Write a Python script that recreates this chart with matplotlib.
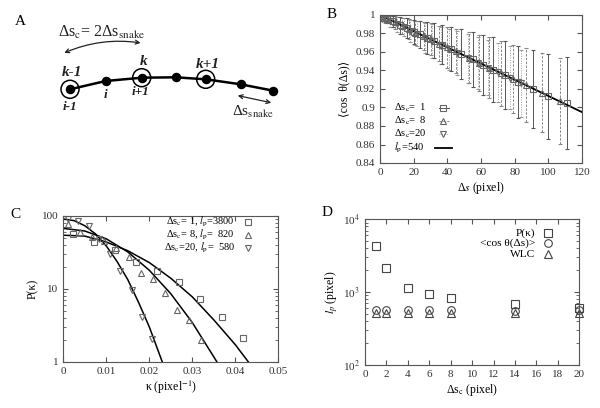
import numpy as np
import matplotlib as mpl
import matplotlib.pyplot as plt
from matplotlib.patches import Circle, FancyArrowPatch
from matplotlib.ticker import NullFormatter, LogLocator

mpl.rcParams.update({"font.family": ["Liberation Serif", "DejaVu Serif"],
                     "mathtext.fontset": "stix", "font.size": 8,
                     "axes.linewidth": 0.8, "axes.edgecolor": "#555555",
                     "xtick.direction": "in", "ytick.direction": "in",
                     "xtick.top": True, "ytick.right": True,
                     "xtick.major.size": 3.5, "ytick.major.size": 3.5,
                     "xtick.minor.size": 2, "ytick.minor.size": 2,
                     "xtick.color": "#555555", "ytick.color": "#555555",
                     "xtick.labelcolor": "#333333", "ytick.labelcolor": "#333333"})
INK = "#222222"
GREY = "#666666"

# ---------------- panel A: chain sketch (pixel coords of the panel) -----
chain_x = [70, 105.7, 141.7, 175.7, 205.7, 240.7, 273.3]
chain_y = [89.3, 81, 77.7, 77.3, 79.3, 84.3, 90.7]
ring_idx = [0, 2, 4]

# ---------------- panel B: <cos theta(ds)> ------------------------------
b1_x = [1, 4, 8, 12, 16, 20, 24, 28, 32, 37, 42, 48, 55, 61, 67, 74, 82, 91, 100, 111]
b1_y = [0.999, 0.996, 0.993, 0.989, 0.986, 0.982, 0.979, 0.975, 0.972, 0.968,
        0.963, 0.958, 0.952, 0.946, 0.941, 0.935, 0.928, 0.920, 0.912, 0.905]
b1_e = [0.001, 0.003, 0.006, 0.009, 0.011, 0.013, 0.015, 0.017, 0.019, 0.021,
        0.024, 0.027, 0.030, 0.032, 0.035, 0.037, 0.039, 0.042, 0.046, 0.050]
b8_x = [2, 5, 9, 13, 17, 21, 26, 30, 35, 40, 45, 53, 59, 65, 72, 79, 87, 96, 107]
b8_y = [0.997, 0.995, 0.992, 0.988, 0.985, 0.981, 0.977, 0.974, 0.969, 0.965,
        0.961, 0.954, 0.948, 0.943, 0.937, 0.931, 0.924, 0.916, 0.907]
b8_e = [0.002, 0.004, 0.007, 0.009, 0.011, 0.013, 0.015, 0.017, 0.019, 0.022,
        0.024, 0.028, 0.030, 0.033, 0.035, 0.037, 0.040, 0.043, 0.046]
b20_x = [1, 3, 6, 10, 14, 18, 22, 27, 31, 36, 41, 46, 52, 58, 64, 70, 77, 84]
b20_y = [0.996, 0.995, 0.993, 0.990, 0.987, 0.983, 0.980, 0.975, 0.972, 0.967,
         0.963, 0.959, 0.953, 0.948, 0.943, 0.938, 0.932, 0.926]
b20_e = [0.002, 0.004, 0.006, 0.008, 0.010, 0.012, 0.014, 0.016, 0.018, 0.020,
         0.022, 0.024, 0.026, 0.028, 0.030, 0.032, 0.034, 0.036]
lp_x = [0, 120]
lp_y = [1.0, 0.895]
b_labels = ["Δs$_\\mathrm{c}$=  1", "Δs$_\\mathrm{c}$=  8", "Δs$_\\mathrm{c}$=20", "$l_\\mathrm{p}$=540"]

# ---------------- panel C: P(kappa) -------------------------------------
c1_k = [0.0022, 0.0072, 0.0121, 0.0170, 0.0219, 0.0270, 0.0318, 0.0368, 0.0417]
c1_p = [57, 44, 33.5, 23.5, 17.5, 12.4, 7.3, 4.1, 2.1]
c8_k = [0.0012, 0.0039, 0.0067, 0.0095, 0.0123, 0.0153, 0.0181, 0.0208, 0.0236,
        0.0264, 0.0292, 0.0321]
c8_p = [77, 59, 51, 45, 36, 26.9, 16.6, 13.4, 8.6, 5.1, 3.7, 2.0]
c20_k = [0.0012, 0.0035, 0.0060, 0.0084, 0.0108, 0.0133, 0.0159, 0.0184, 0.0207]
c20_p = [90, 85, 73, 48, 29.5, 17.5, 9.6, 4.06, 2.05]
fit1_k = [0, 0.005, 0.010, 0.015, 0.020, 0.025, 0.030, 0.035, 0.040, 0.043]
fit1_p = [54, 52.6, 43.6, 33.1, 22.8, 13.9, 7.73, 3.74, 1.71, 1.0]
fit8_k = [0, 0.005, 0.010, 0.015, 0.020, 0.025, 0.030, 0.0357]
fit8_p = [67, 61.7, 48.2, 31.9, 17.9, 8.53, 3.44, 1.0]
fit20_k = [0, 0.0025, 0.005, 0.0075, 0.010, 0.0125, 0.015, 0.0175, 0.020, 0.023]
fit20_p = [90, 85.6, 72.9, 56.2, 38.5, 23.6, 13.3, 6.5, 3.0, 1.0]
c_labels = ["Δs$_\\mathrm{c}$= 1, $l_\\mathrm{p}$=3800",
            "Δs$_\\mathrm{c}$= 8, $l_\\mathrm{p}$=  820",
            "Δs$_\\mathrm{c}$=20, $l_\\mathrm{p}$=  580"]

# ---------------- panel D: l_p vs ds_c ----------------------------------
d_x = [1, 2, 4, 6, 8, 14, 20]
d_pk = [4300, 2150, 1150, 930, 820, 680, 600]
d_cos = [560, 560, 560, 560, 560, 555, 560]
d_wlc = [515, 515, 515, 515, 515, 515, 520]
d_labels = ["P(κ)", "<cos θ(Δs)>", "WLC"]

fig = plt.figure(figsize=(6.0, 4.08), dpi=100)

# ---- A
axA = fig.add_axes([0, 1 - 200 / 408, 0.5, 200 / 408])
axA.set_xlim(0, 300); axA.set_ylim(200, 0); axA.axis("off")
axA.plot(chain_x, chain_y, color="black", lw=1.8, solid_joinstyle="round", zorder=2)
axA.scatter(chain_x, chain_y, s=34, color="black", zorder=3)
for i in ring_idx:
    axA.add_patch(Circle((chain_x[i], chain_y[i]), 9, fill=False, ec="black", lw=1.1, zorder=3))
bi = dict(fontsize=11, fontweight="bold", fontstyle="italic", ha="center", va="center", color=INK)
axA.text(71.7, 72.7, "k-1", **bi)
axA.text(144, 61.5, "k", **bi)
axA.text(207.3, 64.5, "k+1", **bi)
ii = dict(fontsize=9.5, fontweight="bold", fontstyle="italic", ha="center", va="center", color=INK)
axA.text(70, 107.5, "i-1", **ii)
axA.text(105.7, 94.5, "i", **ii)
axA.text(140.7, 92, "i+1", **ii)
axA.text(58, 32, "Δs$_\\mathrm{c}$= 2Δs$_\\mathrm{snake}$", fontsize=11.5, ha="left", va="center", color=INK)
axA.add_patch(FancyArrowPatch((61.7, 54), (143.3, 43.3), arrowstyle="<->", mutation_scale=7,
                              connectionstyle="arc3,rad=-0.15", lw=0.9, color=INK))
axA.add_patch(FancyArrowPatch((235, 95), (274, 103.3), arrowstyle="<->", mutation_scale=7,
                              lw=0.9, color=INK))
axA.text(231.5, 112, "Δs$_\\mathrm{snake}$", fontsize=11, ha="left", va="center", color=INK)
fig.text(20.7 / 600, 1 - 21.7 / 408, "A", fontsize=11, ha="center", va="center")

# ---- B
axB = fig.add_axes([380 / 600, 1 - 163 / 408, 202 / 600, 148 / 408])
mk = dict(mfc="none", mec=GREY, mew=0.8, ms=4.5)
eb = axB.errorbar(b20_x, b20_y, yerr=b20_e, fmt="v", ecolor="#999999", elinewidth=0.7,
                  capsize=1.5, capthick=0.7, **mk)
eb[2][0].set_linestyle((0, (1, 1.5)))
eb = axB.errorbar(b8_x, b8_y, yerr=b8_e, fmt="^", ecolor="#888888", elinewidth=0.7,
                  capsize=1.5, capthick=0.7, **mk)
eb[2][0].set_linestyle((0, (2.5, 1.5)))
axB.errorbar(b1_x, b1_y, yerr=b1_e, fmt="s", ecolor="#555555", elinewidth=0.7,
             capsize=1.5, capthick=0.7, **mk)
axB.plot(lp_x, lp_y, color="black", lw=1.3)
axB.set_xlim(0, 120); axB.set_ylim(0.84, 1.0)
axB.set_xticks(np.arange(0, 121, 20))
axB.set_yticks(np.arange(0.84, 1.001, 0.02))
axB.set_yticklabels(["0.84", "0.86", "0.88", "0.9", "0.92", "0.94", "0.96", "0.98", "1"])
axB.set_xlabel("Δ$s$ (pixel)", fontsize=8.5, labelpad=2)
axB.set_ylabel("⟨cos  θ(Δs)⟩", fontsize=8.5, labelpad=4)
b_rows = [0.375, 0.285, 0.195, 0.103]
for lab, yy in zip(b_labels, b_rows):
    axB.text(0.071, yy, lab, transform=axB.transAxes, fontsize=7.6, ha="left", va="center")
tr = axB.transAxes
axB.plot([0.29, 0.34], [b_rows[0]] * 2, transform=tr, color="#555555", lw=0.7)
axB.plot([0.314], [b_rows[0]], "s", transform=tr, **mk)
axB.plot([0.29, 0.34], [b_rows[1]] * 2, transform=tr, color="#888888", lw=0.7, ls=(0, (2.5, 1.5)))
axB.plot([0.314], [b_rows[1]], "^", transform=tr, **mk)
axB.plot([0.29, 0.34], [b_rows[2]] * 2, transform=tr, color="#999999", lw=0.7, ls=(0, (1, 1.5)))
axB.plot([0.314], [b_rows[2]], "v", transform=tr, **mk)
axB.plot([0.27, 0.355], [b_rows[3]] * 2, transform=tr, color="black", lw=1.3)
fig.text(331.7 / 600, 1 - 15 / 408, "B", fontsize=11, ha="center", va="center")

# ---- C
axC = fig.add_axes([63.3 / 600, 1 - 361.7 / 408, 215 / 600, 146 / 408])
axC.set_yscale("log")
axC.plot(fit1_k, fit1_p, color="black", lw=1.1)
axC.plot(fit8_k, fit8_p, color="black", lw=1.1)
axC.plot(fit20_k, fit20_p, color="black", lw=1.1)
axC.plot(c1_k, c1_p, "s", **mk)
axC.plot(c8_k, c8_p, "^", **mk)
axC.plot(c20_k, c20_p, "v", **mk)
axC.set_xlim(0, 0.05); axC.set_ylim(1, 100)
axC.set_xticks(np.arange(0, 0.0501, 0.01))
axC.set_xticklabels(["0", "0.01", "0.02", "0.03", "0.04", "0.05"])
axC.set_yticks([1, 10, 100]); axC.set_yticklabels(["1", "10", "100"])
axC.yaxis.set_minor_locator(LogLocator(base=10, subs=np.arange(2, 10)))
axC.yaxis.set_minor_formatter(NullFormatter())
axC.set_xlabel("κ (pixel$^{-1}$)", fontsize=8.5, labelpad=2)
axC.set_ylabel("P(κ)", fontsize=8.5, labelpad=2)
c_rows = [0.955, 0.866, 0.777]
for lab, yy, m in zip(c_labels, c_rows, ["s", "^", "v"]):
    axC.text(0.799, yy, lab, transform=axC.transAxes, fontsize=7.5, ha="right", va="center")
    axC.plot([0.86], [yy], m, transform=axC.transAxes, **mk)
fig.text(15 / 600, 1 - 215 / 408, "C", fontsize=11, ha="center", va="center")

# ---- D
axD = fig.add_axes([365 / 600, 1 - 365 / 408, 214.3 / 600, 145.7 / 408])
axD.set_yscale("log")
mkD = dict(mfc="none", mec="#444444", mew=0.8, ms=5.5, clip_on=False)
axD.plot(d_x, d_pk, "s", **mkD)
axD.plot(d_x, d_cos, "o", **mkD)
axD.plot(d_x, d_wlc, "^", **mkD)
axD.set_xlim(0, 20); axD.set_ylim(100, 10000)
axD.set_xticks(np.arange(0, 21, 2))
axD.set_yticks([100, 1000, 10000])
axD.set_yticklabels(["10$^2$", "10$^3$", "10$^4$"])
axD.yaxis.set_minor_locator(LogLocator(base=10, subs=np.arange(2, 10)))
axD.yaxis.set_minor_formatter(NullFormatter())
axD.set_xlabel("Δs$_\\mathrm{c}$ (pixel)", fontsize=8.5, labelpad=2)
axD.set_ylabel("$l_p$ (pixel)", fontsize=8.5, labelpad=2)
d_rows = [0.904, 0.835, 0.76]
for lab, yy, m in zip(d_labels, d_rows, ["s", "o", "^"]):
    axD.text(0.793, yy, lab, transform=axD.transAxes, fontsize=8.2, ha="right", va="center")
    axD.plot([0.855], [yy], m, transform=axD.transAxes, **mkD)
fig.text(326.7 / 600, 1 - 213 / 408, "D", fontsize=11, ha="center", va="center")

fig.savefig("out.png", dpi=100, facecolor="white")
